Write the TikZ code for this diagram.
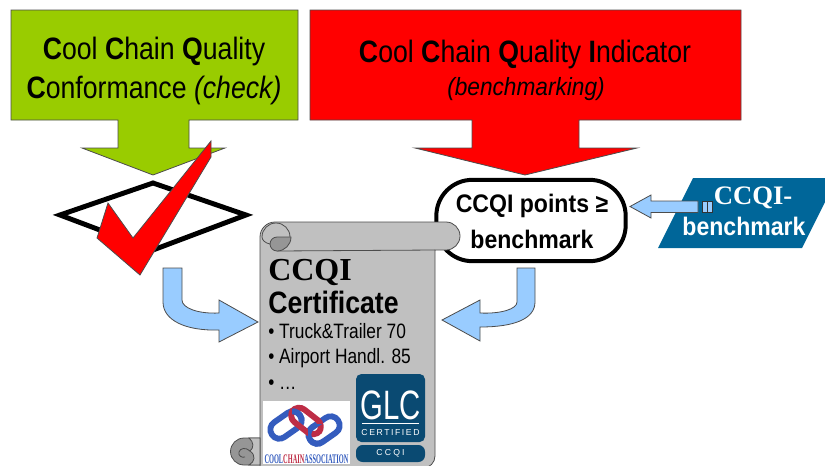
\documentclass[tikz,border=0pt]{standalone}
\usepackage{fontspec}
\setmainfont{Liberation Sans}
\newfontfamily\serifb{Liberation Serif}
\definecolor{lime}{RGB}{153,204,0}
\definecolor{skyb}{RGB}{153,204,255}
\definecolor{greyb}{RGB}{192,192,192}
\definecolor{greyd}{RGB}{150,150,150}
\definecolor{bluep}{RGB}{0,102,153}
\definecolor{glc}{RGB}{10,74,114}
\definecolor{linkb}{RGB}{52,92,190}
\definecolor{linkr}{RGB}{190,45,70}
\newcommand{\vs}[2]{\scalebox{1}[#1]{#2}}
\tikzset{
 outl/.style={draw=black!70,line width=0.6pt},
 bent/.style={outl,fill=skyb},
 txt/.style={inner sep=0pt,align=center},
 bigt/.style={txt,font=\fontsize{20}{24}\selectfont},
 midt/.style={txt,font=\fontsize{17.3}{20}\selectfont\bfseries},
 bull/.style={txt,anchor=west,font=\fontsize{13}{15}\selectfont},
 chain/.style={line width=4.4pt,rounded corners=6.5pt},
}
\begin{document}
\begin{tikzpicture}[x=0.75pt,y=-0.75pt]
\useasboundingbox (0,0) rectangle (825,465);
% green callout
\draw[outl,fill=lime] (11,10)--(298,10)--(298,120)--(189,120)--(189,148)--(225,148)--(153,175)--(82,148)--(118,148)--(118,120)--(11,120)--cycle;
\node[bigt] (g1) at (154,51) {\vs{1.16}{\textbf{C}ool \textbf{C}hain \textbf{Q}uality}};
\node[bigt] (g2) at (154,90) {\vs{1.16}{\textbf{C}onformance \textit{(check)}}};
% red callout
\draw[outl,fill=red] (310,10)--(741,10)--(741,120)--(579,120)--(579,148)--(637,148)--(525,175)--(415,148)--(472,148)--(472,120)--(310,120)--cycle;
\node[bigt] (r1) at (525,54) {\vs{1.16}{\textbf{C}ool \textbf{C}hain \textbf{Q}uality \textbf{I}ndicator}};
\node[txt,font=\fontsize{17}{20}\selectfont\itshape] (r2) at (526,89) {\vs{1.1}{(benchmarking)}};
% diamond
\draw[line width=3.7pt,miter limit=10] (153,183)--(246,215)--(153,250)--(60,215)--cycle;
% check
\draw[outl,fill=red] (211,141)--(211,157)--(140,275)--(97,238)--(108,203)--(133,238)--cycle;
% decision
\node[draw,line width=3pt,fill=white,rounded corners=27pt,minimum width=142pt,minimum height=61pt,inner sep=0pt] (dec) at (531,220.5) {};
\node[midt] (d1) at (532,206) {\vs{1.1}{CCQI points ≥}};
\node[midt] (d2) at (532,239) {\vs{1.1}{benchmark}};
% parallelogram
\fill[bluep] (693,178)--(825,178)--(825,202)--(802,248)--(658,248)--cycle;
\node[txt,font=\fontsize{20}{24}\selectfont\serifb\bfseries,text=white] (b1) at (753,198) {CCQI-};
\node[midt,text=white] (b2) at (744,226) {\vs{1.1}{benchmark}};
% striped arrow
\draw[bent] (630,206.5)--(651,195)--(651,201)--(698,201)--(698,212.5)--(651,212.5)--(651,218)--cycle;
\draw[bent,draw=black!80] (702,201) rectangle (707,212.5);
\draw[bent,draw=black!80] (707.5,201) rectangle (712,212.5);
% bent arrows
\draw[bent] (163,268)--(182,268)--(182,300) .. controls (182,308) and (198,314) .. (219,313)--(219,300)--(258,322)--(219,342)--(219,330) .. controls (185,331) and (163,320) .. (163,302)--cycle;
\draw[bent] (535,268)--(517,268)--(517,302) .. controls (517,309) and (501,314) .. (480,313)--(480,300)--(442,320)--(480,341)--(480,327) .. controls (514,327) and (535,319) .. (535,302)--cycle;
% scroll
\draw[outl,fill=greyb] (277,222)--(446,222) arc[start angle=-90,end angle=90,radius=14] -- (435,250)--(435,456) arc[start angle=0,end angle=90,radius=12] -- (260,468)--(260,237) arc[start angle=180,end angle=270,radius=15]--cycle;
\draw[outl] (277,251)--(435,250);
\draw[outl] (290,237) arc[start angle=0,end angle=-180,radius=14] .. controls (262,240) and (265,243) .. (270,244);
\draw[outl,fill=greyd] (290,237)--(277,237) arc[start angle=-90,end angle=-270,radius=7] arc[start angle=90,end angle=0,radius=14] -- cycle;
% bottom curl
\draw[outl,fill=greyd] (260,438)--(244,438) arc[start angle=-90,end angle=-270,radius=13.5] -- (260,465)--cycle;
\draw[outl,fill=greyb] (249,438)--(260,438)--(260,465)--(249,465) .. controls (255,462) and (256,455) .. (250,451) .. controls (254,448) and (254,442) .. (249,438)--cycle;
\draw[outl] (250,451) .. controls (246,447) and (240,448) .. (239,452) .. controls (238,456) and (242,458) .. (245,457);
% certificate text
\node[txt,anchor=west,font=\fontsize{24}{28}\selectfont\serifb\bfseries] (c1) at (268,272) {CCQI};
\node[txt,anchor=west,font=\fontsize{20}{24}\selectfont\bfseries] (c2) at (268,302) {\vs{1.16}{Certificate}};
\node[bull] (l1) at (268,331) {\vs{1.2}{• Truck\&Trailer 70}};
\node[bull] (l2) at (268,358) {\vs{1.2}{• Airport Handl. 85}};
\node[bull] (l3) at (268,385) {\vs{1.2}{• …}};
% chain logo
\fill[white] (263,401) rectangle (350,464);
\begin{scope}[shift={(286,425)},rotate=35]
\draw[chain,draw=linkb] (-17,-9) rectangle (17,9);
\end{scope}
\begin{scope}[shift={(324,430)},rotate=35]
\draw[chain,draw=linkb] (-17,-9) rectangle (17,9);
\end{scope}
\begin{scope}[shift={(306,421)},rotate=-38]
\draw[chain,draw=linkr] (-17,-8) rectangle (17,8);
\end{scope}
\begin{scope}
\clip (292,402) rectangle (312,420);
\begin{scope}[shift={(286,425)},rotate=35]
\draw[chain,draw=linkb] (-17,-9) rectangle (17,9);
\end{scope}
\end{scope}
\begin{scope}
\clip (308,424) rectangle (322,448);
\begin{scope}[shift={(324,430)},rotate=35]
\draw[chain,draw=linkb] (-17,-9) rectangle (17,9);
\end{scope}
\end{scope}
\node[txt,font=\serifb\bfseries] (lg) at (306.5,459) {\resizebox{63pt}{6.5pt}{\fontsize{7}{8}\selectfont\color{linkb}C\scriptsize OOL\fontsize{7}{8}\selectfont\color{linkr}C\scriptsize HAIN\fontsize{7}{8}\selectfont\color{linkb}A\scriptsize SSOCIATION}};
% GLC badge
\fill[glc,rounded corners=4pt] (356,374) rectangle (425,442);
\fill[glc,rounded corners=5pt] (356,445) rectangle (425,462);
\node[txt,text=white,font=\fontsize{22}{26}\selectfont] (gl) at (390.5,405) {\vs{1.4}{GLC}};
\draw[white,line width=0.6pt] (362,423)--(419,423);
\node[txt,text=white,font=\fontsize{6.5}{8}\selectfont\addfontfeature{LetterSpace=18}] (gc) at (390.5,433) {CERTIFIED};
\node[txt,text=white,font=\fontsize{6.5}{8}\selectfont\addfontfeature{LetterSpace=25}] (gq) at (390.5,453) {CCQI};
\end{tikzpicture}
\end{document}
